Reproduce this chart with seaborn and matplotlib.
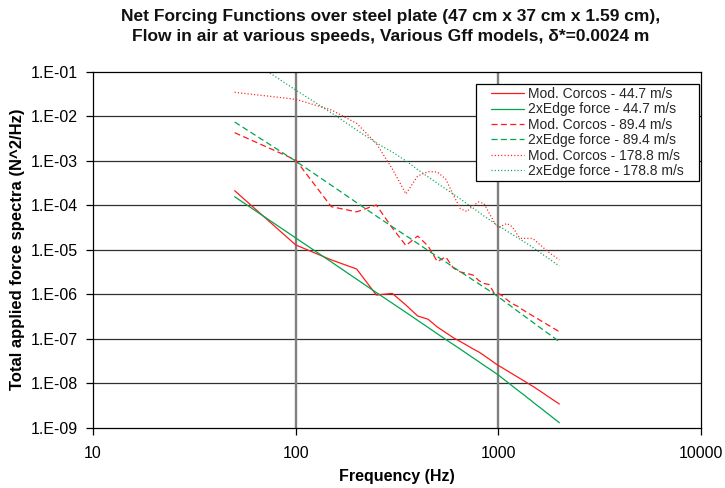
import numpy as np
import pandas as pd
import matplotlib
matplotlib.use("Agg")
import matplotlib.pyplot as plt
import seaborn as sns
from matplotlib.path import Path
from matplotlib.ticker import FixedLocator, NullLocator, FuncFormatter

# ---------------- data ----------------
freq = [50, 100, 150, 200, 250, 300, 350, 400, 450, 500,
        550, 600, 650, 700, 750, 800, 850, 900, 950, 1000,
        1050, 1100, 1150, 1200, 1250, 1300, 1350, 1400, 1450, 1500,
        1550, 1600, 1650, 1700, 1750, 1800, 1850, 1900, 1950, 2000]

corcos_44 = [2.12e-4, 1.28e-5, 5.9e-6, 3.68e-6, 9.6e-7, 1.04e-6, 5.7e-7, 3.24e-7, 2.74e-7, 1.83e-7,
             1.37e-7, 1.05e-7, 8.6e-8, 7.1e-8, 5.9e-8, 5.05e-8, 4.2e-8, 3.5e-8, 2.93e-8, 2.5e-8,
             2.2e-8, 1.93e-8, 1.71e-8, 1.52e-8, 1.36e-8, 1.22e-8, 1.1e-8, 9.95e-9, 9.0e-9, 8.2e-9,
             7.4e-9, 6.75e-9, 6.15e-9, 5.6e-9, 5.1e-9, 4.7e-9, 4.3e-9, 3.98e-9, 3.68e-9, 3.41e-9]

edge_44 = [1.55e-4, 1.84e-5, 5.3e-6, 2.17e-6, 1.09e-6, 6.25e-7, 3.9e-7, 2.58e-7, 1.79e-7, 1.29e-7,
           9.6e-8, 7.4e-8, 5.8e-8, 4.6e-8, 3.72e-8, 3.05e-8, 2.52e-8, 2.12e-8, 1.79e-8, 1.53e-8,
           1.28e-8, 1.09e-8, 9.3e-9, 7.96e-9, 6.9e-9, 6.0e-9, 5.3e-9, 4.6e-9, 4.1e-9, 3.6e-9,
           3.2e-9, 2.87e-9, 2.58e-9, 2.31e-9, 2.08e-9, 1.89e-9, 1.71e-9, 1.55e-9, 1.42e-9, 1.29e-9]

corcos_89 = [4.26e-3, 1.04e-3, 9.25e-5, 7.1e-5, 1.01e-4, 3.07e-5, 1.24e-5, 2.03e-5, 1.21e-5, 5.4e-6,
             6.9e-6, 3.88e-6, 3.15e-6, 2.92e-6, 2.7e-6, 2.03e-6, 1.74e-6, 1.65e-6, 1.09e-6, 1.04e-6,
             9.1e-7, 7.6e-7, 6.5e-7, 5.8e-7, 5.3e-7, 4.65e-7, 4.19e-7, 3.78e-7, 3.44e-7, 3.14e-7,
             2.87e-7, 2.63e-7, 2.42e-7, 2.23e-7, 2.06e-7, 1.91e-7, 1.77e-7, 1.65e-7, 1.54e-7, 1.44e-7]

edge_89 = [7.4e-3, 9.8e-4, 2.8e-4, 1.14e-4, 5.7e-5, 3.27e-5, 2.07e-5, 1.38e-5, 9.6e-6, 7.0e-6,
           5.3e-6, 4.04e-6, 3.19e-6, 2.56e-6, 2.08e-6, 1.72e-6, 1.43e-6, 1.21e-6, 1.03e-6, 8.7e-7,
           7.4e-7, 6.3e-7, 5.45e-7, 4.72e-7, 4.1e-7, 3.6e-7, 3.18e-7, 2.81e-7, 2.51e-7, 2.24e-7,
           2.01e-7, 1.80e-7, 1.63e-7, 1.47e-7, 1.34e-7, 1.22e-7, 1.11e-7, 1.02e-7, 9.3e-8, 8.6e-8]

corcos_179 = [3.44e-2, 2.4e-2, 1.38e-2, 6.9e-3, 2.44e-3, 6.5e-4, 1.79e-4, 4.53e-4, 5.66e-4, 5.57e-4,
              3.88e-4, 1.69e-4, 8.3e-5, 7.2e-5, 9.8e-5, 1.18e-4, 1.09e-4, 6.7e-5, 4.3e-5, 3.07e-5,
              3.5e-5, 3.88e-5, 3.5e-5, 2.84e-5, 2.03e-5, 1.8e-5, 1.8e-5, 1.8e-5, 1.8e-5, 1.69e-5,
              1.49e-5, 1.31e-5, 1.16e-5, 1.03e-5, 9.2e-6, 8.3e-6, 7.6e-6, 7.0e-6, 6.4e-6, 5.9e-6]

edge_179 = [3.1e-1, 3.88e-2, 1.19e-2, 4.9e-3, 2.51e-3, 1.56e-3, 9.9e-4, 6.3e-4, 4.33e-4, 3.12e-4,
            2.32e-4, 1.77e-4, 1.38e-4, 1.08e-4, 8.65e-5, 7.0e-5, 5.7e-5, 4.77e-5, 4.0e-5, 3.44e-5,
            3.01e-5, 2.63e-5, 2.32e-5, 2.06e-5, 1.83e-5, 1.64e-5, 1.48e-5, 1.33e-5, 1.2e-5, 1.07e-5,
            9.7e-6, 8.75e-6, 7.9e-6, 7.2e-6, 6.6e-6, 6.0e-6, 5.5e-6, 5.05e-6, 4.64e-6, 4.3e-6]

labels = ["Mod. Corcos - 44.7 m/s", "2xEdge force - 44.7 m/s",
          "Mod. Corcos - 89.4 m/s", "2xEdge force - 89.4 m/s",
          "Mod. Corcos - 178.8 m/s", "2xEdge force - 178.8 m/s"]
series_values = [corcos_44, edge_44, corcos_89, edge_89, corcos_179, edge_179]

x_ticks = [10, 100, 1000, 10000]
y_ticks = [1e-9, 1e-8, 1e-7, 1e-6, 1e-5, 1e-4, 1e-3, 1e-2, 1e-1]

# ---------------- style ----------------
RED = "#FF1A1A"
GREEN = "#00A550"
palette = {labels[0]: RED, labels[1]: GREEN, labels[2]: RED,
           labels[3]: GREEN, labels[4]: RED, labels[5]: GREEN}
dash_solid = ""
dash_dash = (4.8, 2.7)
dash_dot = (0.9, 1.7)
dashes = {labels[0]: dash_solid, labels[1]: dash_solid, labels[2]: dash_dash,
          labels[3]: dash_dash, labels[4]: dash_dot, labels[5]: dash_dot}

sns.set_theme(style="white")
plt.rcParams["font.family"] = ["Liberation Sans", "DejaVu Sans"]

df = pd.concat([pd.DataFrame({"freq": freq, "value": v, "series": lab})
                for lab, v in zip(labels, series_values)], ignore_index=True)

W, H = 725, 488
fig = plt.figure(figsize=(W / 100, H / 100), dpi=100)
ax = fig.add_axes([93 / W, 1 - 427.7 / H, (701 - 93) / W, (427.7 - 71.7) / H])

sns.lineplot(data=df, x="freq", y="value", hue="series", style="series",
             hue_order=labels, style_order=labels, palette=palette,
             dashes=dashes, estimator=None, sort=False, linewidth=0.9, ax=ax)

ax.set_xscale("log")
ax.set_yscale("log")
ax.set_xlim(10, 10000)
ax.set_ylim(1e-9, 1e-1)

ax.xaxis.set_major_locator(FixedLocator(x_ticks))
ax.xaxis.set_minor_locator(NullLocator())
ax.yaxis.set_major_locator(FixedLocator(y_ticks))
ax.yaxis.set_minor_locator(NullLocator())
ax.xaxis.set_major_formatter(FuncFormatter(lambda v, p: f"{int(round(v))}"))
ax.yaxis.set_major_formatter(FuncFormatter(
    lambda v, p: f"1.E-{abs(int(round(np.log10(v)))):02d}"))

ax.tick_params(axis="both", which="major", direction="out", length=5, width=0.9,
               color="black", labelsize=11.5, labelcolor="black", bottom=True, left=True)
ax.tick_params(axis="x", pad=8.5)
ax.tick_params(axis="y", pad=6)

# grid lines: horizontal dark, vertical grey and heavier
ax.grid(False)
for yv in y_ticks[1:-1]:
    ax.axhline(yv, color="#303030", lw=0.9, zorder=0.5)
for xv in x_ticks[1:-1]:
    ax.axvline(xv, color="#808080", lw=1.7, zorder=0.5)

for s in ax.spines.values():
    s.set_visible(True)
    s.set_color("black")
    s.set_linewidth(0.9)

ax.set_xlabel("Frequency (Hz)", fontsize=11.5, fontweight="bold", color="black")
ax.set_ylabel("Total applied force spectra (N^2/Hz)", fontsize=12,
              fontweight="bold", color="black")
ax.xaxis.set_label_coords(0.5, (427.7 - 468.5) / 356)
ax.yaxis.set_label_coords((25 - 93) / 608, 0.5)

fig.text(391 / W, 1 - 26.5 / H,
         "Net Forcing Functions over steel plate (47 cm x 37 cm x 1.59 cm),\n"
         "Flow in air at various speeds, Various Gff models, δ*=0.0024 m",
         ha="center", va="center", fontsize=12.5, fontweight="bold",
         linespacing=1.5, color="#111111")

# legend
handles, labs = ax.get_legend_handles_labels()
leg = ax.legend(handles, labs, loc="upper right",
                bbox_to_anchor=((687 - 93) / 608, (427.7 - 84) / 356),
                fontsize=10, frameon=True, fancybox=False, framealpha=1,
                edgecolor="black", handlelength=2.4, handletextpad=0.3,
                labelspacing=0.1, borderpad=0.22, borderaxespad=0)
leg.get_frame().set_linewidth(0.9)


def wide_box(x0, y0, width, height, mutation_size):
    padx = 12.0
    pady = 0.0
    xa, ya = x0 - padx, y0 - pady
    xb, yb = x0 + width + padx, y0 + height + pady
    return Path([(xa, ya), (xb, ya), (xb, yb), (xa, yb), (xa, ya)],
                [Path.MOVETO, Path.LINETO, Path.LINETO, Path.LINETO, Path.CLOSEPOLY])


leg.get_frame().set_boxstyle(wide_box)

fig.savefig("out.png", dpi=100, facecolor="white")
